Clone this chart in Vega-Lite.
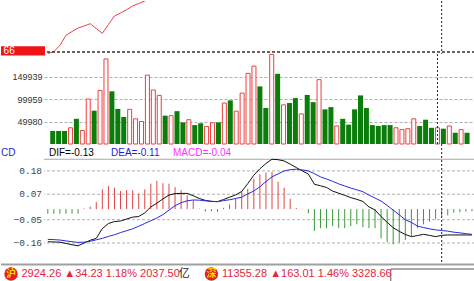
{
"$schema":"https://vega.github.io/schema/vega-lite/v6.json",
"padding":0,"spacing":0,"bounds":"flush","background":"white",
"config":{"view":{"stroke":null},"axisX":{"disable":true},"axisY":{"labelOverlap":false,"labelBound":false,"labelFlush":false}},
"resolve":{"scale":{"x":"independent","y":"independent"}},
"datasets":{
"price":[{"i":0,"p":2882.5},{"i":1,"p":2884.5},{"i":2,"p":2890.5},{"i":3,"p":2900.7},{"i":4,"p":2904.5},{"i":5,"p":2908},{"i":6,"p":2910},{"i":7,"p":2912.3},{"i":8,"p":2907.5},{"i":9,"p":2902.7},{"i":10,"p":2911.5},{"i":11,"p":2920},{"i":12,"p":2923},{"i":13,"p":2926.3},{"i":14,"p":2930},{"i":15,"p":2932.5},{"i":16,"p":2935},{"i":17,"p":2938},{"i":18,"p":2941}],
"vol":[{"i":0,"v":29000,"up":false},{"i":1,"v":29000,"up":false},{"i":2,"v":29000,"up":false},{"i":3,"v":36000,"up":true},{"i":4,"v":56000,"up":false},{"i":5,"v":30000,"up":true},{"i":6,"v":100000,"up":true},{"i":7,"v":74000,"up":false},{"i":8,"v":119000,"up":true},{"i":9,"v":189000,"up":true},{"i":10,"v":117000,"up":false},{"i":11,"v":78000,"up":false},{"i":12,"v":60000,"up":false},{"i":13,"v":77000,"up":true},{"i":14,"v":56000,"up":true},{"i":15,"v":50000,"up":true},{"i":16,"v":153000,"up":true},{"i":17,"v":120000,"up":true},{"i":18,"v":108000,"up":true},{"i":19,"v":63000,"up":false},{"i":20,"v":63000,"up":true},{"i":21,"v":73000,"up":false},{"i":22,"v":48000,"up":false},{"i":23,"v":54000,"up":true},{"i":24,"v":42000,"up":false},{"i":25,"v":46000,"up":false},{"i":26,"v":39000,"up":true},{"i":27,"v":47000,"up":true},{"i":28,"v":48000,"up":false},{"i":29,"v":91000,"up":true},{"i":30,"v":97000,"up":false},{"i":31,"v":73000,"up":true},{"i":32,"v":113000,"up":true},{"i":33,"v":157000,"up":true},{"i":34,"v":173000,"up":true},{"i":35,"v":128000,"up":false},{"i":36,"v":80000,"up":false},{"i":37,"v":199000,"up":true},{"i":38,"v":156000,"up":false},{"i":39,"v":87000,"up":true},{"i":40,"v":91000,"up":false},{"i":41,"v":102000,"up":false},{"i":42,"v":67000,"up":true},{"i":43,"v":109000,"up":false},{"i":44,"v":93000,"up":false},{"i":45,"v":143000,"up":true},{"i":46,"v":77000,"up":false},{"i":47,"v":82000,"up":false},{"i":48,"v":40000,"up":true},{"i":49,"v":56000,"up":false},{"i":50,"v":43000,"up":false},{"i":51,"v":77000,"up":false},{"i":52,"v":108000,"up":false},{"i":53,"v":80000,"up":false},{"i":54,"v":42000,"up":false},{"i":55,"v":40000,"up":false},{"i":56,"v":42000,"up":false},{"i":57,"v":42000,"up":false},{"i":58,"v":36000,"up":true},{"i":59,"v":32000,"up":true},{"i":60,"v":34000,"up":true},{"i":61,"v":56000,"up":true},{"i":62,"v":40000,"up":false},{"i":63,"v":54000,"up":false},{"i":64,"v":36000,"up":false},{"i":65,"v":36000,"up":true},{"i":66,"v":34000,"up":false},{"i":67,"v":40000,"up":true},{"i":68,"v":25000,"up":false},{"i":69,"v":32000,"up":true},{"i":70,"v":25000,"up":false}],
"macd":[{"i":0,"dif":-0.154,"dea":-0.143,"m":-0.022},{"i":1,"dif":-0.155,"dea":-0.144,"m":-0.022},{"i":2,"dif":-0.156,"dea":-0.146,"m":-0.022},{"i":3,"dif":-0.162,"dea":-0.15,"m":-0.022},{"i":4,"dif":-0.168,"dea":-0.154,"m":-0.022},{"i":5,"dif":-0.173,"dea":-0.157,"m":-0.022},{"i":6,"dif":-0.16,"dea":-0.156,"m":0.003},{"i":7,"dif":-0.147,"dea":-0.152,"m":0.012},{"i":8,"dif":-0.138,"dea":-0.145,"m":0.033},{"i":9,"dif":-0.092,"dea":-0.138,"m":0.093},{"i":10,"dif":-0.068,"dea":-0.129,"m":0.109},{"i":11,"dif":-0.059,"dea":-0.121,"m":0.101},{"i":12,"dif":-0.056,"dea":-0.111,"m":0.085},{"i":13,"dif":-0.047,"dea":-0.102,"m":0.089},{"i":14,"dif":-0.038,"dea":-0.093,"m":0.089},{"i":15,"dif":-0.035,"dea":-0.081,"m":0.073},{"i":16,"dif":-0.018,"dea":-0.068,"m":0.093},{"i":17,"dif":0.01,"dea":-0.055,"m":0.12},{"i":18,"dif":0.028,"dea":-0.042,"m":0.133},{"i":19,"dif":0.048,"dea":-0.026,"m":0.122},{"i":20,"dif":0.066,"dea":-0.005,"m":0.12},{"i":21,"dif":0.073,"dea":0.016,"m":0.104},{"i":22,"dif":0.074,"dea":0.03,"m":0.089},{"i":23,"dif":0.074,"dea":0.039,"m":0.065},{"i":24,"dif":0.063,"dea":0.043,"m":0.042},{"i":25,"dif":0.05,"dea":0.042,"m":0.002},{"i":26,"dif":0.041,"dea":0.039,"m":-0.012},{"i":27,"dif":0.036,"dea":0.037,"m":-0.01},{"i":28,"dif":0.035,"dea":0.035,"m":-0.013},{"i":29,"dif":0.045,"dea":0.04,"m":0.006},{"i":30,"dif":0.056,"dea":0.044,"m":0.022},{"i":31,"dif":0.067,"dea":0.05,"m":0.05},{"i":32,"dif":0.083,"dea":0.056,"m":0.085},{"i":33,"dif":0.12,"dea":0.072,"m":0.096},{"i":34,"dif":0.16,"dea":0.085,"m":0.143},{"i":35,"dif":0.19,"dea":0.105,"m":0.164},{"i":36,"dif":0.215,"dea":0.13,"m":0.172},{"i":37,"dif":0.235,"dea":0.152,"m":0.175},{"i":38,"dif":0.233,"dea":0.166,"m":0.129},{"i":39,"dif":0.227,"dea":0.18,"m":0.101},{"i":40,"dif":0.212,"dea":0.186,"m":0.049},{"i":41,"dif":0.196,"dea":0.188,"m":0.005},{"i":42,"dif":0.18,"dea":0.185,"m":0.001},{"i":43,"dif":0.165,"dea":0.18,"m":-0.02},{"i":44,"dif":0.117,"dea":0.167,"m":-0.103},{"i":45,"dif":0.11,"dea":0.152,"m":-0.09},{"i":46,"dif":0.102,"dea":0.142,"m":-0.09},{"i":47,"dif":0.085,"dea":0.131,"m":-0.08},{"i":48,"dif":0.075,"dea":0.119,"m":-0.09},{"i":49,"dif":0.065,"dea":0.109,"m":-0.09},{"i":50,"dif":0.054,"dea":0.099,"m":-0.08},{"i":51,"dif":0.046,"dea":0.091,"m":-0.072},{"i":52,"dif":0.036,"dea":0.082,"m":-0.085},{"i":53,"dif":0.01,"dea":0.066,"m":-0.09},{"i":54,"dif":-0.004,"dea":0.052,"m":-0.09},{"i":55,"dif":-0.035,"dea":0.038,"m":-0.138},{"i":56,"dif":-0.062,"dea":0.017,"m":-0.155},{"i":57,"dif":-0.088,"dea":-0.005,"m":-0.166},{"i":58,"dif":-0.105,"dea":-0.027,"m":-0.158},{"i":59,"dif":-0.12,"dea":-0.05,"m":-0.146},{"i":60,"dif":-0.13,"dea":-0.063,"m":-0.127},{"i":61,"dif":-0.125,"dea":-0.08,"m":-0.09},{"i":62,"dif":-0.119,"dea":-0.087,"m":-0.072},{"i":63,"dif":-0.124,"dea":-0.093,"m":-0.059},{"i":64,"dif":-0.13,"dea":-0.098,"m":-0.048},{"i":65,"dif":-0.124,"dea":-0.101,"m":-0.033},{"i":66,"dif":-0.122,"dea":-0.104,"m":-0.03},{"i":67,"dif":-0.122,"dea":-0.109,"m":-0.017},{"i":68,"dif":-0.122,"dea":-0.112,"m":-0.015},{"i":69,"dif":-0.122,"dea":-0.116,"m":-0.012},{"i":70,"dif":-0.122,"dea":-0.119,"m":-0.01}],
"mticks":[{"t":0.18},{"t":0.07},{"t":-0.05},{"t":-0.16}]
},
"vconcat":[
{"width":431,"height":53,
 "layer":[
  {"data":{"name":"price"},"mark":{"type":"line","color":"#e8424e","strokeWidth":1,"clip":true},
   "encoding":{"x":{"field":"i","type":"quantitative","scale":{"domain":[-0.627,70.5],"nice":false,"zero":false},"axis":null},
     "y":{"field":"p","type":"quantitative","scale":{"domain":[2882,2935],"nice":false,"zero":false},"axis":null}}},
  {"data":{"values":[{}]},"mark":{"type":"rule","color":"#333333","strokeDash":[3,2],"strokeWidth":1.5},
   "encoding":{"y":{"datum":2884,"type":"quantitative","axis":null}}},
  {"data":{"values":[{}]},"mark":{"type":"rule","color":"#222222","strokeDash":[2,2],"strokeWidth":1},
   "encoding":{"x":{"datum":65,"type":"quantitative","axis":null}}},
  {"data":{"values":[{}]},"mark":{"type":"rect","color":"#f01414","clip":false},
   "encoding":{"x":{"datum":-7.723,"type":"quantitative"},"x2":{"datum":-0.46},"y":{"datum":2889.7,"type":"quantitative","axis":null},"y2":{"datum":2880.5}}},
  {"data":{"values":[{}]},"mark":{"type":"text","text":"66","align":"left","baseline":"middle","font":"Liberation Sans","fontSize":10,"color":"#ffffff","clip":false},
   "encoding":{"x":{"datum":-7.3,"type":"quantitative"},"y":{"datum":2885,"type":"quantitative","axis":null}}}
 ]},
{"width":431,"height":90,
 "layer":[
  {"data":{"name":"vol"},"transform":[{"filter":"!datum.up"}],"mark":{"type":"bar","color":"#0a7d0a","size":5},
   "encoding":{"x":{"field":"i","type":"quantitative","scale":{"domain":[-0.627,70.5],"nice":false,"zero":false},"axis":null},
     "y":{"field":"v","type":"quantitative","scale":{"domain":[0,200000],"nice":false},"axis":{"values":[49980,99959,149939],"format":"d","grid":true,"gridDash":[3,2],"gridColor":"#b0b0b0","domain":false,"ticks":false,"labelOverlap":false,"labelFont":"Liberation Sans","labelFontSize":9,"labelColor":"#333333","labelPadding":2,"title":null}}}},
  {"data":{"name":"vol"},"transform":[{"filter":"datum.up"}],"mark":{"type":"bar","fill":"#ffffff","stroke":"#ef3e3e","strokeWidth":1,"size":4},
   "encoding":{"x":{"field":"i","type":"quantitative"},
     "y":{"field":"v","type":"quantitative"}}},
  {"data":{"values":[{}]},"mark":{"type":"rule","color":"#222222","strokeDash":[2,2],"strokeWidth":1},
   "encoding":{"x":{"datum":65,"type":"quantitative"}}}
 ]},
{"width":431,"height":120,
 "layer":[
  {"data":{"name":"mticks"},"mark":{"type":"rule","color":"#b0b0b0","strokeDash":[3,2],"strokeWidth":1},
   "encoding":{"y":{"field":"t","type":"quantitative","scale":{"domain":[-0.259,0.307],"nice":false,"zero":false},"axis":null}}},
  {"data":{"name":"mticks"},"mark":{"type":"text","align":"right","baseline":"middle","font":"Liberation Mono","fontSize":9.5,"color":"#444444","clip":false},
   "encoding":{"x":{"datum":-0.95,"type":"quantitative","scale":{"domain":[-0.627,70.5],"nice":false,"zero":false},"axis":null},"y":{"field":"t","type":"quantitative"},"text":{"field":"t","type":"quantitative","format":".2f"}}},
  {"data":{"name":"macd"},"mark":{"type":"rule","strokeWidth":1},
   "encoding":{"x":{"field":"i","type":"quantitative"},
     "y":{"field":"m","type":"quantitative"},
     "y2":{"datum":0},
     "color":{"field":"m","type":"quantitative","scale":{"type":"threshold","domain":[0],"range":["#3a9a3a","#e04545"]},"legend":null}}},
  {"data":{"values":[{}]},"mark":{"type":"rule","color":"#a8a8a8","strokeWidth":1},
   "encoding":{"y":{"datum":0.235,"type":"quantitative"}}},
  {"data":{"name":"macd"},"mark":{"type":"line","color":"#111111","strokeWidth":1},
   "encoding":{"x":{"field":"i","type":"quantitative"},"y":{"field":"dif","type":"quantitative"}}},
  {"data":{"name":"macd"},"mark":{"type":"line","color":"#2a2ae0","strokeWidth":1},
   "encoding":{"x":{"field":"i","type":"quantitative"},"y":{"field":"dea","type":"quantitative"}}},
  {"data":{"values":[{}]},"mark":{"type":"rule","color":"#222222","strokeDash":[2,2],"strokeWidth":1},
   "encoding":{"x":{"datum":65,"type":"quantitative"}}},
  {"data":{"values":[{}]},"mark":{"type":"text","text":"CD","align":"left","baseline":"middle","font":"Liberation Sans","fontSize":10,"color":"#1c1cdc","clip":false},
   "encoding":{"x":{"datum":-7.723,"type":"quantitative"},"y":{"datum":0.265,"type":"quantitative"}}},
  {"data":{"values":[{}]},"mark":{"type":"text","text":"DIF=-0.13","align":"left","baseline":"middle","font":"Liberation Sans","fontSize":10,"color":"#000000"},
   "encoding":{"x":{"datum":0.2,"type":"quantitative"},"y":{"datum":0.265,"type":"quantitative"}}},
  {"data":{"values":[{}]},"mark":{"type":"text","text":"DEA=-0.11","align":"left","baseline":"middle","font":"Liberation Sans","fontSize":10,"color":"#1c1cdc"},
   "encoding":{"x":{"datum":10.43,"type":"quantitative"},"y":{"datum":0.265,"type":"quantitative"}}},
  {"data":{"values":[{}]},"mark":{"type":"text","text":"MACD=-0.04","align":"left","baseline":"middle","font":"Liberation Sans","fontSize":10,"color":"#ff30ff"},
   "encoding":{"x":{"datum":20.66,"type":"quantitative"},"y":{"datum":0.265,"type":"quantitative"}}}
 ]},
{"width":431,"height":18,"data":{"values":[{}]},
 "layer":[
  {"mark":{"type":"rule","color":"#a0a0a0","strokeWidth":2,"clip":false},
   "encoding":{"x":{"datum":-7.723,"type":"quantitative","scale":{"domain":[-0.627,70.5],"nice":false,"zero":false},"axis":null},"x2":{"datum":70.5},
     "y":{"datum":17.5,"type":"quantitative","scale":{"domain":[0,18],"nice":false,"zero":false},"axis":null}}},
  {"mark":{"type":"rect","fill":"#ffffff","stroke":"#555555","strokeWidth":1,"clip":false},
   "encoding":{"x":{"datum":56.6,"type":"quantitative"},"x2":{"datum":70.6},"y":{"datum":13,"type":"quantitative"},"y2":{"datum":-1}}},
  {"mark":{"type":"point","shape":"circle","filled":true,"size":180,"color":"#e61e1e","opacity":1,"clip":false},
   "encoding":{"x":{"datum":-6.07,"type":"quantitative"},"y":{"datum":8,"type":"quantitative"}}},
  {"mark":{"type":"point","shape":"circle","filled":true,"size":180,"color":"#e61e1e","opacity":1},
   "encoding":{"x":{"datum":27.01,"type":"quantitative"},"y":{"datum":8,"type":"quantitative"}}},
  {"mark":{"type":"text","text":"沪","align":"center","baseline":"middle","font":"Noto Sans CJK SC","fontSize":10,"fontWeight":"bold","color":"#ffd700"},
   "encoding":{"x":{"datum":-6.07,"type":"quantitative"},"y":{"datum":8,"type":"quantitative"}}},
  {"mark":{"type":"text","text":"深","align":"center","baseline":"middle","font":"Noto Sans CJK SC","fontSize":10,"fontWeight":"bold","color":"#ffd700"},
   "encoding":{"x":{"datum":27.01,"type":"quantitative"},"y":{"datum":8,"type":"quantitative"}}},
  {"mark":{"type":"text","text":"2924.26 ▲34.23 1.18% 2037.50","align":"left","baseline":"middle","font":"Liberation Sans","fontSize":11,"color":"#e8243c"},
   "encoding":{"x":{"datum":-4.34,"type":"quantitative"},"y":{"datum":8,"type":"quantitative"}}},
  {"mark":{"type":"text","text":"亿","align":"left","baseline":"middle","font":"Noto Sans CJK SC","fontSize":11,"color":"#222222"},
   "encoding":{"x":{"datum":21.6,"type":"quantitative"},"y":{"datum":8,"type":"quantitative"}}},
  {"mark":{"type":"text","text":"11355.28 ▲163.01 1.46% 3328.66","align":"left","baseline":"middle","font":"Liberation Sans","fontSize":11,"color":"#e8243c"},
   "encoding":{"x":{"datum":28.75,"type":"quantitative"},"y":{"datum":8,"type":"quantitative"}}}
 ]}
]
}
